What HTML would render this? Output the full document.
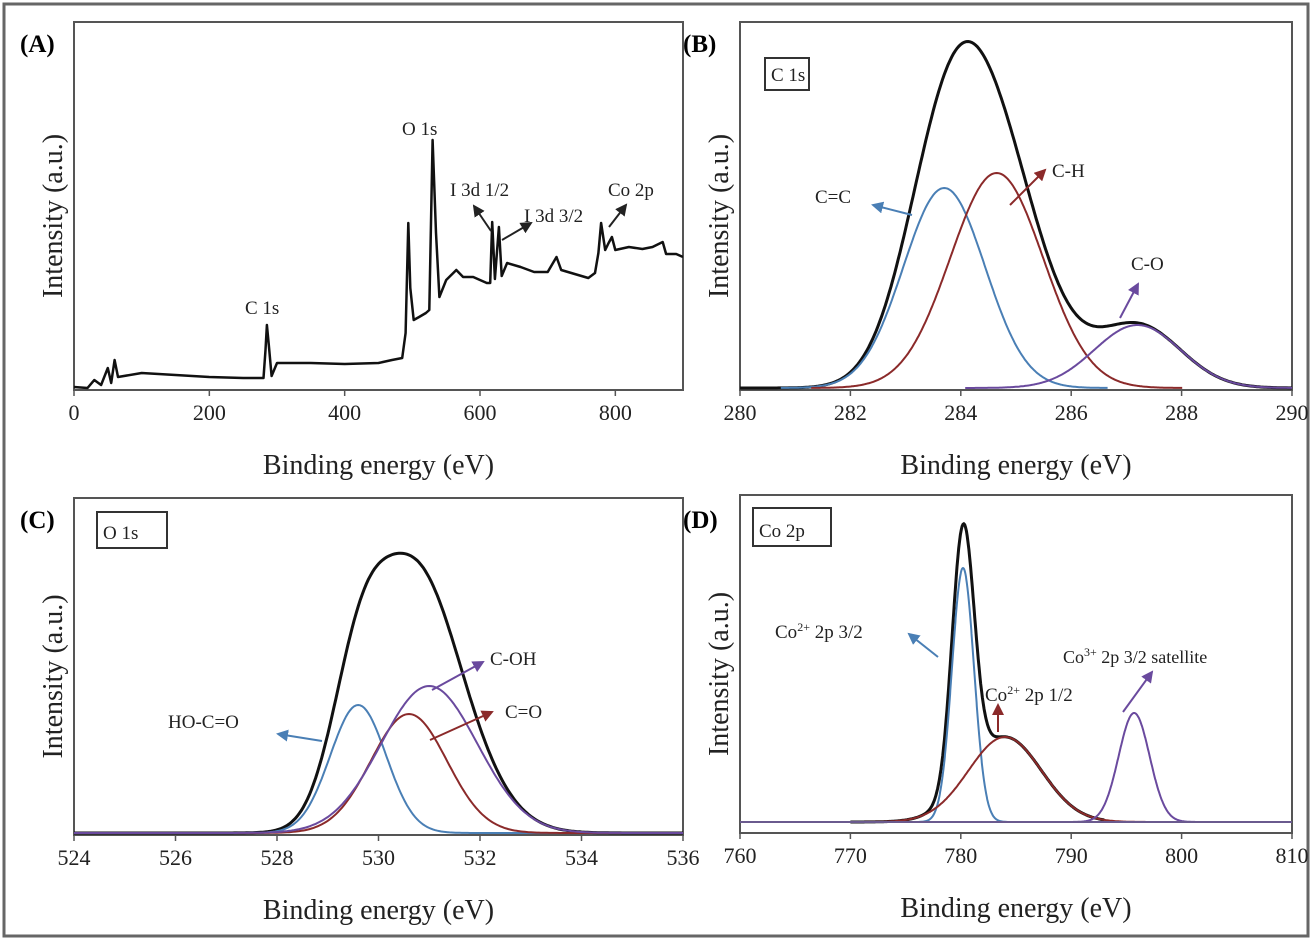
<!DOCTYPE html>
<html><head><meta charset="utf-8"><style>
body{margin:0;background:#fff}
svg{display:block;font-family:"Liberation Serif",serif}
</style></head><body>
<svg id="fig" width="1313" height="941" viewBox="0 0 1313 941">
<defs>
<marker id="ab" markerWidth="6" markerHeight="6" refX="5" refY="3" orient="auto"><path d="M0,0L6,3L0,6z" fill="#4a7fb5"/></marker>
<marker id="ar" markerWidth="6" markerHeight="6" refX="5" refY="3" orient="auto"><path d="M0,0L6,3L0,6z" fill="#8b2a2a"/></marker>
<marker id="ap" markerWidth="6" markerHeight="6" refX="5" refY="3" orient="auto"><path d="M0,0L6,3L0,6z" fill="#6a4a9e"/></marker>
<marker id="ak" markerWidth="6" markerHeight="6" refX="5" refY="3" orient="auto"><path d="M0,0L6,3L0,6z" fill="#222"/></marker>
</defs>
<rect x="4" y="4" width="1304" height="932" fill="none" stroke="#666" stroke-width="3"/>
<g id="root"></g>
</svg>
<script>
// Panel A survey spectrum (eV, intensity a.u.)
const surveyE=[0,20,30,40,50,55,60,65,100,150,200,250,280,283,285,288,292,300,350,400,450,470,485,490,494,497,502,510,520,525,530,535,540,550,565,575,590,610,615,618,622,628,632,640,660,680,700,713,720,740,760,770,775,779,785,790,795,800,820,840,855,870,875,890,900];
const surveyI=[1,0,8,3,20,5,28,11,15,13,11,10,10,38,63,42,12,25,25,24,25,28,30,55,165,100,68,71,75,78,248,155,91,108,118,111,111,105,105,166,109,161,112,125,121,116,116,131,118,114,110,115,135,165,138,145,151,138,141,139,141,146,134,134,131];
// Panel B C1s components: centers, heights, sigmas
const c1sCenters=[283.7,284.65,287.2];
const c1sHeights=[200,215,63];
const c1sSigmas=[0.74,0.84,0.78];
// Panel C O1s components (HO-C=O, C=O, C-OH)
const o1sCenters=[529.6,530.6,531.0];
const o1sHeights=[128,119,147];
const o1sSigmas=[0.55,0.75,0.95];
// Panel D Co2p components (2+ 3/2, 2+ 1/2, 3+ sat)
const co2pCenters=[780.2,784.0,795.7];
const co2pHeights=[254,85,109];
const co2pSigmas=[1.0,3.3,1.4];
const ticksA=[0,200,400,600,800];
const ticksB=[280,282,284,286,288,290];
const ticksC=[524,526,528,530,532,534,536];
const ticksD=[760,770,780,790,800,810];

const NS="http://www.w3.org/2000/svg";
const root=document.getElementById('root');
const defs=document.querySelector('defs');
function el(tag,attrs,parent){const e=document.createElementNS(NS,tag);for(const k in attrs)e.setAttribute(k,attrs[k]);(parent||root).appendChild(e);return e;}
function txt(x,y,s,size,parent,extra){const t=el('text',Object.assign({x:x,y:y,'font-size':size,fill:'#222'},extra||{}),parent);t.textContent=s;return t;}

function panel(id,letter,fx0,fx1,fy0,fy1,xmin,xmax,ticks,letterX,letterY){
  const g=el('g',{});
  
  
  const cp=el('clipPath',{id:'clip-'+id},defs);
  el('rect',{x:fx0,y:fy0,width:fx1-fx0,height:fy1-fy0},cp);
  const fr=el('rect',{x:fx0,y:fy0,width:fx1-fx0,height:fy1-fy0,fill:'none',stroke:'#555','stroke-width':2},g);
  
  
  const sx=v=>fx0+(v-xmin)/(xmax-xmin)*(fx1-fx0);
  ticks.forEach(t=>{
    el('line',{x1:sx(t),x2:sx(t),y1:fy1,y2:fy1+6,stroke:'#555','stroke-width':1.5},g);
    const tl=txt(sx(t),fy1+30,String(t),22,g,{'text-anchor':'middle'});
    
    
  });
  const xt=txt((fx0+fx1)/2,fy1+84,'Binding energy (eV)',28,g,{'text-anchor':'middle'});
  
  
  const yx=fx0-12, yy=(fy0+fy1)/2+10;
  const yt=txt(yx,yy,'Intensity (a.u.)',28,g,{'text-anchor':'middle',transform:'rotate(-90 '+yx+' '+yy+')'});
  
  
  const pl=txt(letterX,letterY,'('+letter+')',25,g,{'font-weight':'bold',fill:'#000'});
  
  
  const pg=el('g',{'clip-path':'url(#clip-'+id+')'},g);
  return {g,pg,sx};
}
function gauss(x,c,h,s){return h*Math.exp(-(x-c)*(x-c)/(2*s*s));}
function curve(g,sx,base,xmin,xmax,fn,color,w,name){
  let d='';const N=300;
  for(let i=0;i<=N;i++){const x=xmin+(xmax-xmin)*i/N;d+=(i?'L':'M')+sx(x).toFixed(1)+','+(base-fn(x)).toFixed(1);}
  const p=el('path',{d:d,fill:'none',stroke:color,'stroke-width':w},g);
  
  
}
function arrow(g,x1,y1,x2,y2,color,m){el('line',{x1,y1,x2,y2,stroke:color,'stroke-width':2,'marker-end':'url(#'+m+')'},g);}
function boxLabel(g,x,y,w,h,s,name){el('rect',{x,y,width:w,height:h,fill:'#fff',stroke:'#333','stroke-width':2},g);const t=txt(x+6,y+h-9,s,19,g);}
const BLUE='#4a7fb5',RED='#8b2a2a',PUR='#6a4a9e';

// Panel A
{const {g,pg,sx}=panel('a','A',74,683,22,390,0,900,ticksA,20,52);
 const base=388;
 let d='';surveyE.forEach((e,i)=>{d+=(i?'L':'M')+sx(e).toFixed(1)+','+(base-surveyI[i]).toFixed(1);});
 const p=el('path',{d:d,fill:'none',stroke:'#111','stroke-width':2.5,'stroke-linejoin':'round'},pg);
 
 
 [['O 1s',402,135],['C 1s',245,314],['I 3d 1/2',450,196],['I 3d 3/2',524,222],['Co 2p',608,196]].forEach(([s,x,y])=>{const t=txt(x,y,s,19,g);});
 arrow(g,491,231,474,206,'#222','ak');arrow(g,502,240,531,223,'#222','ak');arrow(g,609,227,626,205,'#222','ak');}

// Panel B
{const {g,pg,sx}=panel('b','B',740,1292,22,390,280,290,ticksB,683,52);
 const base=388;
 boxLabel(g,765,58,44,32,'C 1s','inset-label-c1s');
 const cols=[BLUE,RED,PUR],names=['c=c-component','c-h-component','c-o-component'];
 curve(pg,sx,base,280,290,x=>c1sCenters.reduce((a,c,i)=>a+gauss(x,c,c1sHeights[i],c1sSigmas[i]),0),'#111',3,'c1s-envelope');
 c1sCenters.forEach((c,i)=>curve(pg,sx,base,c-4*c1sSigmas[i],c+4*c1sSigmas[i],x=>gauss(x,c,c1sHeights[i],c1sSigmas[i]),cols[i],2,names[i]));
 txt(815,203,'C=C',19,g);txt(1052,177,'C-H',19,g);txt(1131,270,'C-O',19,g);
 arrow(g,912,215,873,205,BLUE,'ab');arrow(g,1010,205,1045,170,RED,'ar');arrow(g,1120,318,1138,284,PUR,'ap');}

// Panel C
{const {g,pg,sx}=panel('c','C',74,683,498,835,524,536,ticksC,20,528);
 const base=833;
 boxLabel(g,97,512,70,36,'O 1s','inset-label-o1s');
 const cols=[BLUE,RED,PUR],names=['ho-c=o-component','c=o-component','c-oh-component'];
 curve(pg,sx,base,524,536,x=>o1sCenters.reduce((a,c,i)=>a+gauss(x,c,o1sHeights[i],o1sSigmas[i]),0),'#111',3,'o1s-envelope');
 o1sCenters.forEach((c,i)=>curve(pg,sx,base,524,536,x=>gauss(x,c,o1sHeights[i],o1sSigmas[i]),cols[i],2,names[i]));
 txt(168,728,'HO-C=O',19,g);txt(490,665,'C-OH',19,g);txt(505,718,'C=O',19,g);
 arrow(g,322,741,278,734,BLUE,'ab');arrow(g,432,690,483,662,PUR,'ap');arrow(g,430,740,492,712,RED,'ar');}

// Panel D
{const {g,pg,sx}=panel('d','D',740,1292,495,833,760,810,ticksD,683,528);
 const base=822;
 el('line',{x1:740,x2:1292,y1:822,y2:822,stroke:'#6a5a8e','stroke-width':2},g);
 boxLabel(g,753,508,78,38,'Co 2p','inset-label-co2p');
 const cols=[BLUE,RED,PUR],names=['co2-2p32-component','co2-2p12-component','co3-satellite-component'];
 curve(pg,sx,base,770,793,x=>gauss(x,co2pCenters[0],co2pHeights[0],co2pSigmas[0])+gauss(x,co2pCenters[1],co2pHeights[1],co2pSigmas[1]),'#111',3,'co2p-envelope');
 co2pCenters.forEach((c,i)=>curve(pg,sx,base,c-4*co2pSigmas[i],c+4*co2pSigmas[i],x=>gauss(x,c,co2pHeights[i],co2pSigmas[i]),cols[i],2,names[i]));
 const t1=txt(775,638,'',19,g);t1.innerHTML='Co<tspan dy="-7" font-size="12">2+</tspan><tspan dy="7"> 2p 3/2</tspan>';
 const t2=txt(985,701,'',19,g);t2.innerHTML='Co<tspan dy="-7" font-size="12">2+</tspan><tspan dy="7"> 2p 1/2</tspan>';
 const t3=txt(1063,663,'',18,g);t3.innerHTML='Co<tspan dy="-7" font-size="12">3+</tspan><tspan dy="7"> 2p 3/2 satellite</tspan>';
 arrow(g,938,657,909,634,BLUE,'ab');arrow(g,998,732,998,705,RED,'ar');arrow(g,1123,712,1152,672,PUR,'ap');}
</script>
</body></html>
